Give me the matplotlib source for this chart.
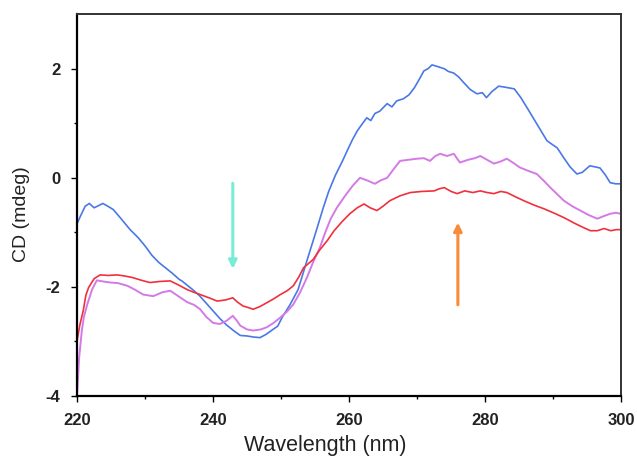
import matplotlib
matplotlib.use("Agg")
import matplotlib.pyplot as plt
import numpy as np

plt.rcParams['font.family'] = ['Liberation Sans', 'DejaVu Sans']
plt.rcParams['axes.unicode_minus'] = False

blue_x = [220, 220.5, 221.2, 221.8, 222.5, 223.0, 223.8, 224.5, 225.3, 226.0, 226.8, 227.8, 229, 230, 231, 232, 233, 234, 235, 235.4, 236, 237, 238, 239, 240, 241, 242, 243, 244, 245, 246, 246.9, 247.8, 248.8, 249.5, 250.2, 251.3, 252.5, 253.8, 254.6, 255.3, 256.2, 257, 258, 259, 259.7, 260.5, 261.2, 262, 262.6, 263.2, 263.8, 264.5, 265.6, 266.3, 267, 268, 268.8, 269.6, 270.3, 271, 271.6, 272.2, 273, 274, 274.6, 275.4, 276.1, 276.9, 277.8, 278.8, 279.6, 280.2, 281, 282, 283, 284.3, 285.2, 286.2, 287.6, 289.1, 290, 290.6, 291.5, 292.5, 293.5, 294.3, 295.4, 296.2, 296.9, 297.7, 298.4, 299.2, 300]
blue_y = [-0.84, -0.70, -0.52, -0.47, -0.55, -0.52, -0.47, -0.52, -0.58, -0.68, -0.80, -0.95, -1.10, -1.25, -1.42, -1.55, -1.65, -1.75, -1.86, -1.89, -1.95, -2.05, -2.16, -2.30, -2.44, -2.58, -2.70, -2.80, -2.89, -2.90, -2.92, -2.93, -2.87, -2.78, -2.72, -2.55, -2.33, -2.05, -1.52, -1.20, -0.92, -0.55, -0.25, 0.05, 0.30, 0.49, 0.70, 0.86, 1.00, 1.10, 1.05, 1.18, 1.22, 1.36, 1.30, 1.41, 1.45, 1.52, 1.65, 1.80, 1.96, 2.00, 2.07, 2.04, 2.00, 1.95, 1.92, 1.85, 1.74, 1.62, 1.54, 1.56, 1.47, 1.58, 1.68, 1.66, 1.63, 1.48, 1.28, 0.99, 0.68, 0.60, 0.55, 0.38, 0.20, 0.07, 0.10, 0.22, 0.20, 0.18, 0.05, -0.09, -0.11, -0.11]

magenta_x = [220, 220.3, 220.7, 221.0, 221.5, 222.2, 222.9, 223.8, 224.9, 226, 227.4, 228.5, 229.7, 231.2, 232.5, 233.7, 235, 236.2, 237.2, 238.1, 239, 240, 241, 242, 242.9, 243.5, 244, 245, 245.9, 247, 247.9, 248.9, 249.9, 250.9, 251.8, 252.8, 253.8, 254.7, 255.7, 256.5, 257.3, 258.2, 259.3, 260.5, 261.6, 262.7, 263.8, 264.6, 265.6, 266.5, 267.5, 268.7, 270, 271, 271.9, 272.7, 273.4, 274.4, 275.4, 276.3, 277.5, 278.5, 279.3, 280.3, 281.3, 282.3, 283.2, 284.2, 285.1, 286.3, 287.6, 288.6, 289.6, 290.6, 291.6, 292.8, 294, 295.2, 296.5, 297.5, 298.4, 299.2, 300]
magenta_y = [-3.97, -3.30, -2.80, -2.55, -2.32, -2.05, -1.88, -1.90, -1.92, -1.93, -1.98, -2.05, -2.14, -2.17, -2.10, -2.07, -2.18, -2.28, -2.33, -2.41, -2.55, -2.66, -2.68, -2.62, -2.53, -2.62, -2.71, -2.78, -2.80, -2.78, -2.74, -2.66, -2.56, -2.45, -2.32, -2.10, -1.83, -1.55, -1.28, -1.00, -0.75, -0.55, -0.35, -0.15, 0.00, -0.05, -0.11, -0.05, 0.00, 0.15, 0.31, 0.33, 0.35, 0.36, 0.31, 0.40, 0.44, 0.40, 0.44, 0.28, 0.33, 0.36, 0.40, 0.33, 0.26, 0.30, 0.35, 0.27, 0.19, 0.13, 0.07, -0.05, -0.18, -0.30, -0.42, -0.52, -0.60, -0.68, -0.75, -0.70, -0.66, -0.64, -0.66]

red_x = [220, 220.4, 220.9, 221.3, 221.7, 222.5, 223.4, 224.6, 225.9, 227, 228.2, 229.5, 230.7, 232.2, 233.7, 235, 236.2, 237.2, 238.1, 239.4, 240.6, 241.8, 242.9, 243.6, 244.4, 245.2, 245.9, 246.9, 247.9, 248.9, 249.9, 250.9, 251.8, 252.6, 253.3, 254.7, 255.7, 256.8, 257.8, 259, 260.1, 261.2, 262.2, 263.1, 264.1, 265, 266, 267.5, 269, 270.7, 272.5, 273.3, 274, 275, 275.9, 277, 278.2, 279.3, 280.3, 281.3, 282.3, 283.2, 284.5, 285.7, 287.2, 288.7, 290.2, 291.6, 293.1, 294.6, 295.5, 296.5, 297.5, 298.5, 299.3, 300]
red_y = [-2.99, -2.70, -2.44, -2.15, -2.01, -1.85, -1.78, -1.79, -1.78, -1.80, -1.83, -1.88, -1.92, -1.90, -1.89, -1.97, -2.05, -2.10, -2.14, -2.20, -2.26, -2.24, -2.20, -2.28, -2.35, -2.38, -2.41, -2.36, -2.29, -2.22, -2.14, -2.07, -1.98, -1.82, -1.65, -1.50, -1.32, -1.15, -0.97, -0.80, -0.66, -0.55, -0.48, -0.55, -0.60, -0.52, -0.42, -0.33, -0.27, -0.25, -0.24, -0.20, -0.18, -0.25, -0.29, -0.24, -0.27, -0.24, -0.27, -0.29, -0.25, -0.27, -0.35, -0.42, -0.50, -0.57, -0.65, -0.73, -0.83, -0.92, -0.97, -0.97, -0.93, -0.97, -0.95, -0.95]

x_ticks = [220, 240, 260, 280, 300]
y_ticks = [-4, -2, 0, 2]

fig = plt.figure(figsize=(6.37, 4.57), dpi=100)
ax = fig.add_axes([0.121, 0.1335, 0.854, 0.8355])

ax.plot(blue_x, blue_y, color='#4a78e6', lw=1.2)
ax.plot(magenta_x, magenta_y, color='#d47ae6', lw=1.4)
ax.plot(red_x, red_y, color='#f0303c', lw=1.2)

# arrows
ax.annotate('', xy=(242.9, -1.72), xytext=(242.9, -0.05),
            arrowprops=dict(arrowstyle='-|>', color='#78ecd4', lw=2.2, mutation_scale=12))
ax.annotate('', xy=(276.0, -0.77), xytext=(276.0, -2.38),
            arrowprops=dict(arrowstyle='-|>', color='#f88c3a', lw=2.2, mutation_scale=12))

ax.set_xlim(220, 300)
ax.set_ylim(-4, 3)
ax.set_xticks(x_ticks)
ax.set_yticks(y_ticks)
ax.set_xticks([230, 250, 270, 290], minor=True)
ax.set_yticks([-3, -1, 1], minor=True)
ax.tick_params(axis='both', which='major', direction='out', length=4, width=1, labelsize=12)
ax.tick_params(axis='y', which='major', pad=8)
ax.tick_params(axis='x', which='major', pad=8)
ax.tick_params(axis='both', which='minor', direction='out', length=2, width=1)
for lab in ax.get_xticklabels() + ax.get_yticklabels():
    lab.set_fontweight('bold')
    lab.set_color('#222222')

for s in ['left', 'bottom']:
    ax.spines[s].set_linewidth(1.6)
    ax.spines[s].set_color('black')
for s in ['top', 'right']:
    ax.spines[s].set_linewidth(1.4)
    ax.spines[s].set_color('#333333')

ax.set_xlabel('Wavelength (nm)', fontsize=15.5, color='#222222')
ax.set_ylabel('CD (mdeg)', fontsize=14, color='#222222')
ax.xaxis.set_label_coords(0.457, -0.102)
ax.yaxis.set_label_coords(-0.086, 0.475)

fig.savefig('out.png', dpi=100)
